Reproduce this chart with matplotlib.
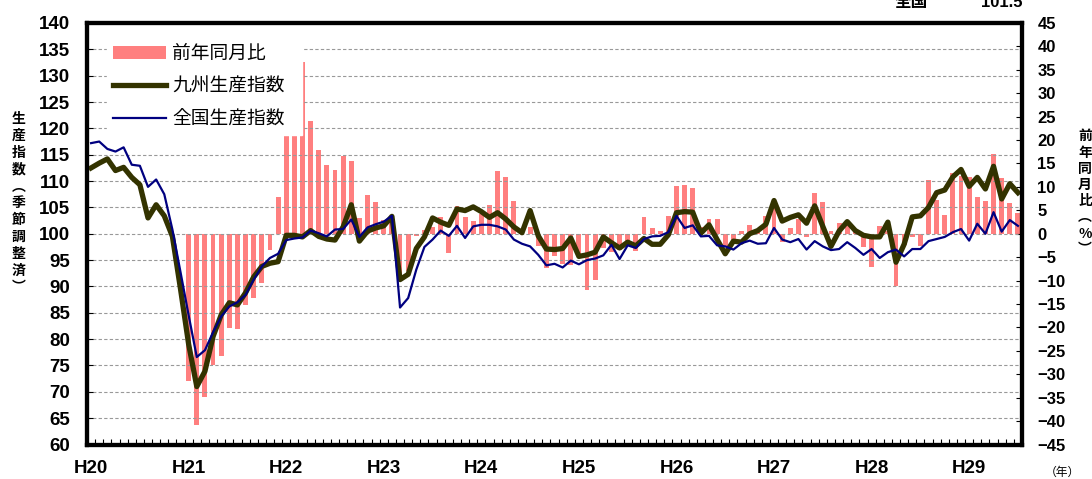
import numpy as np
import matplotlib.pyplot as plt
from matplotlib.ticker import MultipleLocator

plt.rcParams['font.family'] = ['Liberation Sans', 'Noto Sans CJK JP', 'DejaVu Sans']

# year labels (one every 12 months, starting H20 Jan)
years = ['H20', 'H21', 'H22', 'H23', 'H24', 'H25', 'H26', 'H27', 'H28', 'H29']

# Kyushu production index (seasonally adjusted), monthly H20/1 - H29/7
kyushu = [
    112.5, 113.4, 114.2, 112.0, 112.6, 110.7, 109.3, 103.0, 105.5, 103.4, 99.5, 89.5,   # H20
    79.0, 71.0, 73.9, 80.5, 84.6, 86.9, 86.5, 88.8, 91.8, 93.8, 94.4, 94.7,           # H21
    99.7, 99.7, 99.4, 100.6, 99.5, 99.0, 98.8, 101.3, 105.5, 98.6, 100.5, 101.1,      # H22
    101.5, 103.3, 91.3, 92.3, 97.2, 99.4, 103.0, 102.2, 101.6, 104.7, 104.4, 105.1,   # H23
    104.2, 103.1, 104.0, 102.8, 101.3, 100.2, 104.4, 99.6, 97.1, 97.0, 97.2, 99.2,    # H24
    95.7, 96.0, 96.5, 99.4, 98.3, 97.3, 98.4, 97.7, 99.1, 98.0, 98.0, 99.8,           # H25
    104.0, 104.2, 104.1, 100.1, 101.7, 98.9, 96.2, 98.6, 98.4, 100.0, 100.6, 101.8,   # H26
    106.3, 102.4, 103.1, 103.6, 102.0, 105.3, 101.4, 97.6, 100.5, 102.3, 100.6, 99.7, # H27
    99.4, 99.4, 102.2, 94.6, 98.0, 103.2, 103.4, 105.0, 107.8, 108.3, 110.8, 112.2,   # H28
    109.0, 110.7, 108.5, 112.8, 106.6, 109.5, 107.8,                                  # H29
]

# national production index
zenkoku = [
    117.2, 117.5, 116.1, 115.6, 116.4, 113.1, 112.9, 108.9, 110.3, 107.5, 100.8, 92.7,
    84.5, 76.6, 77.9, 81.3, 84.3, 86.2, 87.0, 88.4, 91.3, 93.8, 95.4, 96.2,
    98.8, 99.1, 99.3, 100.6, 100.1, 99.5, 100.8, 100.9, 102.7, 99.4, 101.2, 101.8,
    102.3, 103.4, 86.0, 87.8, 93.2, 97.5, 98.9, 100.6, 99.6, 101.5, 99.2, 101.4,
    101.7, 101.7, 101.4, 100.8, 98.9, 98.1, 97.6, 96.0, 94.0, 94.3, 93.6, 94.9,
    94.2, 95.0, 95.3, 95.9, 97.9, 95.2, 97.8, 97.3, 99.0, 99.5, 99.6, 100.3,
    103.4, 101.1, 101.6, 99.5, 99.6, 97.8, 97.6, 97.0, 98.2, 98.7, 98.1, 98.2,
    101.1, 98.9, 98.4, 99.0, 97.0, 98.6, 97.6, 96.9, 97.1, 98.4, 97.3, 96.0,
    97.1, 95.4, 96.5, 97.0, 95.7, 97.1, 97.1, 98.6, 99.0, 99.4, 100.3, 100.9,
    98.7, 101.9, 100.0, 104.1, 100.4, 102.6, 101.5,
]

# Kyushu year-on-year change (%), shown from H21
yoy = [np.nan] * 12 + [
    -31.4, -40.8, -34.8, -28.0, -26.0, -20.1, -20.3, -15.2, -13.7, -10.5, -3.4, 7.8,
    26.0, 30.0, 36.7, 24.0, 17.9, 14.7, 13.7, 16.5, 15.6, 3.3, 8.3, 6.7,
    3.0, 3.5, -8.5, -8.0, -0.4, 0.9, 1.5, 3.5, -4.1, 6.0, 3.6, 2.8,
    4.3, 6.2, 13.3, 12.1, 7.0, 1.0, 1.5, -2.7, -7.4, -4.8, -6.4, -6.7,
    -4.5, -12.0, -9.8, -3.0, -3.9, -3.4, -2.3, -3.6, 3.6, 1.3, 0.5, 3.8,
    10.2, 10.5, 9.7, 1.5, 3.2, 3.1, -2.8, -1.5, 0.5, 1.9, 0.9, 3.8,
    5.8, -1.8, 1.2, 3.2, -0.7, 8.7, 6.8, 0.5, 2.4, 2.1, 0.5, -2.8,
    -7.0, 1.6, 0.5, -11.2, -2.5, -0.7, -2.7, 11.5, 7.3, 4.1, 12.9, 12.3,
    12.2, 7.8, 7.0, 17.1, 11.9, 6.5, 4.5,
]

n = len(kyushu)
x = np.arange(n)

fig = plt.figure(figsize=(10.92, 4.79), dpi=100)
ax = fig.add_axes([0.0797, 0.072, 0.8562, 0.880])
ax2 = ax.twinx()
ax.set_zorder(ax2.get_zorder() + 1)
ax.patch.set_visible(False)

# bars (right axis)
bars = ax2.bar(x, yoy, width=0.6, color='#FF7F7F', label='前年同月比')
ax2.set_ylim(-45, 45)
ax2.yaxis.set_major_locator(MultipleLocator(5))

# lines (left axis)
l1, = ax.plot(x, kyushu, color='#333300', lw=3.8, label='九州生産指数')
l2, = ax.plot(x, zenkoku, color='#000080', lw=1.6, label='全国生産指数')
ax.set_ylim(60, 140)
ax.yaxis.set_major_locator(MultipleLocator(5))
ax.set_xlim(-0.5, n - 0.5)
ax.grid(axis='y', color='#999999', lw=0.8, ls=(0, (3, 2)))

ax.set_xticks(np.arange(0, n, 12))
ax.set_xticklabels(years)
ax.set_xticks(np.arange(0.5, n - 0.5, 1), minor=True)
ax.tick_params(axis='x', which='major', length=0, pad=11, labelsize=13.5)
ax.tick_params(axis='x', which='minor', direction='in', length=4, width=0.8)
ax.tick_params(axis='y', direction='in', length=4, pad=12, labelsize=13.5)
ax2.tick_params(axis='y', direction='in', length=4, pad=11, labelsize=12)
for lab in ax.get_xticklabels() + ax.get_yticklabels() + ax2.get_yticklabels():
    lab.set_fontweight('bold')

for a in (ax, ax2):
    for s in a.spines.values():
        s.set_linewidth(3)
        s.set_color('black')

leg = ax.legend([bars, l1, l2], ['前年同月比', '九州生産指数', '全国生産指数'],
                loc='upper left', bbox_to_anchor=(0.0214, 0.665, 0.209, 0.3),
                mode='expand', borderaxespad=0,
                prop={'family': 'Noto Sans CJK JP', 'size': 13.5},
                handlelength=2.85, handletextpad=0.32, labelspacing=0.62,
                borderpad=0.3, frameon=True, fancybox=False, framealpha=1)
leg.get_frame().set_edgecolor('white')

jp = 'Noto Sans CJK JP'
fig.text(18.5 / 1092, 1 - 203.5 / 479, '\n'.join('生産指数︵季節調整済︶'),
         family=jp, fontsize=10, fontweight='bold', ha='center', va='center', linespacing=1.26)
fig.text(1085 / 1092, 1 - 193 / 479, '\n'.join('前年同月比︵%︶'),
         family=jp, fontsize=10, fontweight='bold', ha='center', va='center', linespacing=1.2)
fig.text(1062 / 1092, 1 - 472 / 479, '（年）', family=jp, fontsize=8.5,
         ha='center', va='center')
fig.text(911 / 1092, 1 - 7 / 479, '全国', family=jp, fontsize=12, fontweight='bold',
         ha='center', va='baseline')
fig.text(1023 / 1092, 1 - 7 / 479, '101.5', fontsize=12, fontweight='bold',
         ha='right', va='baseline')

fig.savefig('out.png', dpi=100)
